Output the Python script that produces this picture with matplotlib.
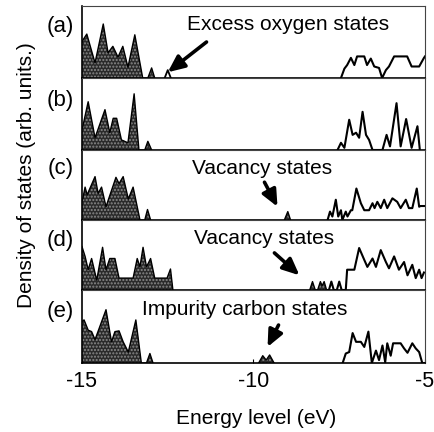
import matplotlib
matplotlib.use('Agg')
import matplotlib.pyplot as plt

plt.rcParams['font.family'] = ['Liberation Sans', 'DejaVu Sans']

# panel labels and annotation texts
panel_labels = ['(a)', '(b)', '(c)', '(d)', '(e)']
notes = ['Excess oxygen states', None, 'Vacancy states', 'Vacancy states', 'Impurity carbon states']

# valence band DOS (filled), energy in eV, DOS as fraction of panel height
a_val_e = [-15.0, -14.97, -14.86, -14.62, -14.38, -14.24, -14.10, -13.95, -13.81, -13.66, -13.46, -13.23, -13.08, -12.97, -12.88]
a_val_d = [0.50, 0.53, 0.61, 0.21, 0.75, 0.35, 0.44, 0.29, 0.44, 0.15, 0.60, 0.0, 0.0, 0.14, 0.0]
b_val_e = [-15.0, -14.98, -14.82, -14.62, -14.33, -14.19, -14.09, -13.99, -13.85, -13.66, -13.48, -13.34, -13.17, -13.08, -12.97]
b_val_d = [0.30, 0.32, 0.67, 0.17, 0.56, 0.24, 0.44, 0.44, 0.14, 0.10, 0.78, 0.0, 0.0, 0.12, 0.0]
c_val_e = [-15.0, -14.98, -14.91, -14.85, -14.62, -14.53, -14.43, -14.30, -14.01, -13.92, -13.80, -13.65, -13.51, -13.31, -13.17, -13.09, -13.00]
c_val_d = [0.28, 0.30, 0.47, 0.36, 0.62, 0.38, 0.47, 0.19, 0.61, 0.52, 0.62, 0.30, 0.47, 0.0, 0.0, 0.15, 0.0]
d_val_e = [-15.0, -14.91, -14.82, -14.72, -14.57, -14.40, -14.30, -14.19, -14.04, -13.92, -13.51, -13.39, -13.31, -13.22, -13.12, -13.00, -12.88, -12.52, -12.42, -12.35]
d_val_d = [0.62, 0.48, 0.29, 0.45, 0.14, 0.61, 0.29, 0.45, 0.45, 0.17, 0.17, 0.45, 0.33, 0.61, 0.33, 0.45, 0.17, 0.17, 0.30, 0.0]
e_val_e = [-15.0, -14.94, -14.82, -14.72, -14.62, -14.30, -14.14, -14.04, -13.92, -13.80, -13.65, -13.43, -13.27, -13.12, -13.02, -12.93]
e_val_d = [0.57, 0.59, 0.45, 0.43, 0.32, 0.73, 0.29, 0.43, 0.44, 0.29, 0.15, 0.59, 0.0, 0.0, 0.13, 0.0]

# defect states in the gap
a_def_e = [-12.59, -12.50, -12.41]          # open
a_def_d = [0, 0.11, 0]
c_def_e = [-9.10, -9.00, -8.92]             # filled
c_def_d = [0, 0.12, 0]
d_def_e = [-8.36, -8.28, -8.20, -8.13, -8.05, -8.00, -7.94, -7.87]  # filled
d_def_d = [0, 0.12, 0, 0, 0.12, 0.06, 0.12, 0]
e_def_e = [-9.85, -9.73, -9.63, -9.53, -9.40]  # filled
e_def_d = [0, 0.10, 0.04, 0.11, 0]

# conduction band DOS (open outline)
a_con_e = [-7.45, -7.35, -7.27, -7.16, -7.06, -6.98, -6.77, -6.69, -6.58, -6.48, -6.34, -6.25, -6.14, -6.05, -5.90, -5.52, -5.39, -5.17, -5.03, -5.0]
a_con_d = [0, 0.13, 0.18, 0.28, 0.18, 0.30, 0.30, 0.18, 0.27, 0.16, 0.14, 0, 0.11, 0.16, 0.30, 0.30, 0.16, 0.16, 0.28, 0.30]
b_con_e = [-7.55, -7.45, -7.35, -7.21, -7.11, -7.01, -6.92, -6.82, -6.72, -6.63, -6.53, -6.24, -6.12, -6.02, -5.83, -5.71, -5.55, -5.39, -5.22, -5.15]
b_con_d = [0, 0.10, 0.03, 0.42, 0.21, 0.24, 0.17, 0.53, 0.21, 0.14, 0, 0, 0.21, 0.05, 0.65, 0.05, 0.43, 0.03, 0.33, 0]
c_con_e = [-7.84, -7.77, -7.70, -7.60, -7.53, -7.45, -7.41, -7.31, -7.26, -7.16, -7.12, -7.00, -6.87, -6.77, -6.63, -6.53, -6.47, -6.39, -6.29, -6.19, -6.10, -5.95, -5.81, -5.71, -5.56, -5.47, -5.37, -5.24, -5.17, -5.13, -5.03]
c_con_d = [0, 0.12, 0.05, 0.29, 0.05, 0.14, 0.0, 0.12, 0.05, 0.14, 0.14, 0.45, 0.24, 0.14, 0.14, 0.24, 0.17, 0.26, 0.17, 0.29, 0.17, 0.31, 0.26, 0.17, 0.29, 0.17, 0.17, 0.45, 0.19, 0.20, 0.20]
d_con_e = [-7.87, -7.80, -7.73, -7.66, -7.57, -7.50, -7.43, -7.31, -7.27, -7.06, -6.92, -6.77, -6.68, -6.53, -6.43, -6.29, -6.14, -6.05, -5.90, -5.76, -5.61, -5.51, -5.37, -5.27, -5.17, -5.10, -5.03]
d_con_d = [0, 0, 0.12, 0, 0, 0.12, 0, 0, 0.29, 0.29, 0.60, 0.43, 0.33, 0.45, 0.33, 0.57, 0.40, 0.31, 0.48, 0.29, 0.40, 0.21, 0.36, 0.17, 0.29, 0.17, 0.25]
e_con_e = [-7.40, -7.31, -7.21, -7.11, -7.01, -6.87, -6.77, -6.65, -6.55, -6.43, -6.34, -6.24, -6.16, -6.10, -6.00, -5.93, -5.71, -5.61, -5.51, -5.37, -5.27, -5.17, -5.08, -5.0]
e_con_d = [0, 0.13, 0.15, 0.41, 0.29, 0.29, 0.22, 0.43, 0.0, 0.17, 0.04, 0.24, 0.01, 0.27, 0.10, 0.27, 0.27, 0.20, 0.14, 0.27, 0.20, 0.15, 0.0, 0.0]

x_ticks = [-15, -10, -5]

valence = [(a_val_e, a_val_d), (b_val_e, b_val_d), (c_val_e, c_val_d), (d_val_e, d_val_d), (e_val_e, e_val_d)]
conduction = [(a_con_e, a_con_d), (b_con_e, b_con_d), (c_con_e, c_con_d), (d_con_e, d_con_d), (e_con_e, e_con_d)]
defects = [(a_def_e, a_def_d, False), None, (c_def_e, c_def_d, True), (d_def_e, d_def_d, True), (e_def_e, e_def_d, True)]

# layout of the panels (figure fractions)
boxes = [[0.1885, 0.8194, 0.7885, 0.1667],
         [0.1885, 0.6528, 0.7885, 0.1667],
         [0.1885, 0.4907, 0.7885, 0.1620],
         [0.1885, 0.3287, 0.7885, 0.1620],
         [0.1885, 0.1597, 0.7885, 0.1690]]
label_y = [0.71, 0.69, 0.74, 0.71, 0.71]
note_xy = [(-9.0, 0.74), None, (-9.74, 0.74), (-9.68, 0.74), (-10.26, 0.73)]
arrows = [((-11.37, 0.50), (-12.50, 0.08)), None,
          ((-9.68, 0.54), (-9.30, 0.19)),
          ((-9.39, 0.53), (-8.66, 0.21)),
          ((-9.27, 0.52), (-9.59, 0.22))]

dark = '#2a2a2a'


def filled(ax, e, d):
    ax.fill_between(e, d, 0, facecolor=dark, linewidth=0)
    ax.fill_between(e, d, 0, facecolor='none', edgecolor='#8a8a8a', hatch='.....', linewidth=0)
    ax.plot(e, d, color='black', lw=1.0)


fig = plt.figure(figsize=(4.35, 4.32), dpi=100)

for i in range(5):
    ax = fig.add_axes(boxes[i])
    e, d = valence[i]
    filled(ax, e, d)
    if defects[i] is not None:
        de, dd, fill = defects[i]
        if fill:
            filled(ax, de, dd)
        else:
            ax.plot(de, dd, color='black', lw=1.3)
    ce, cd = conduction[i]
    ax.plot(ce, cd, color='black', lw=1.5)

    ax.set_xlim(-15, -5)
    ax.set_ylim(0, 1)
    ax.set_yticks([])
    for s in ['top', 'right']:
        ax.spines[s].set_linestyle((0, (1, 1)))
        ax.spines[s].set_color('#444444')
    ax.spines['left'].set_linewidth(1.2)
    ax.spines['bottom'].set_linewidth(1.2)
    if i < 4:
        ax.set_xticks([])
    else:
        ax.set_xticks(x_ticks)
        ax.set_xticklabels(['-15', '-10', '-5'], fontsize=15.5)
        ax.tick_params(axis='x', direction='in', length=3, pad=6)

    ax.text(-0.063, label_y[i], panel_labels[i], transform=ax.transAxes,
            ha='center', va='center', fontsize=16)
    if notes[i] is not None:
        ax.text(note_xy[i][0], note_xy[i][1], notes[i], ha='center', va='center', fontsize=15)
        tail, head = arrows[i]
        ax.annotate('', xy=head, xytext=tail,
                    arrowprops=dict(arrowstyle='-|>,head_length=1.0,head_width=0.45',
                                    color='black', lw=2.6, shrinkA=0, shrinkB=0))

fig.text(0.06, 0.595, 'Density of states (arb. units.)', rotation=90,
         ha='center', va='center', fontsize=15)
fig.text(0.589, 0.032, 'Energy level (eV)', ha='center', va='center', fontsize=15)

plt.savefig('out.png', dpi=100)
plt.close()
